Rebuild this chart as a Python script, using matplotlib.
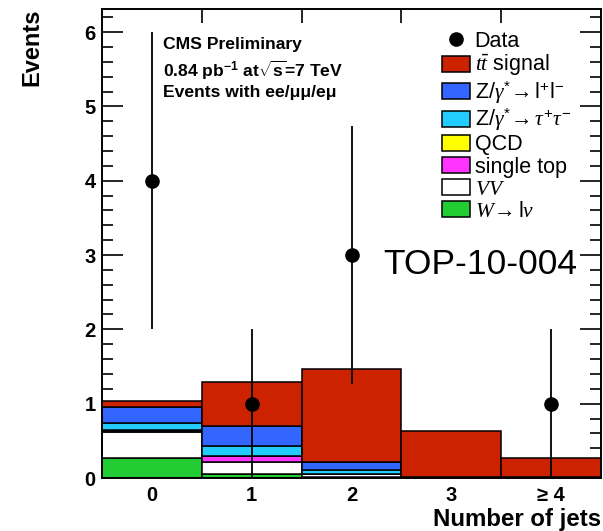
import numpy as np
import matplotlib
matplotlib.use("Agg")
import matplotlib.pyplot as plt
from matplotlib.patches import Patch
from matplotlib.lines import Line2D

plt.rcParams['font.family'] = ['Liberation Sans', 'DejaVu Sans']
plt.rcParams['mathtext.fontset'] = 'custom'
plt.rcParams['mathtext.rm'] = 'Liberation Sans'
plt.rcParams['mathtext.it'] = 'Liberation Serif:italic'
plt.rcParams['mathtext.bf'] = 'Liberation Sans:bold'

# ---------------------------------------------------------------------------
# data
bins = [0, 1, 2, 3, 4]
bin_labels = ["0", "1", "2", "3", "\u2265 4"]

data = [4, 1, 3, 0, 1]
data_err = [2.0, 1.0, 1.73, 0.0, 1.0]

# stacked MC, bottom to top
w_lnu = [0.27, 0.05, 0.01, 0.00, 0.00]
vv = [0.35, 0.16, 0.04, 0.01, 0.00]
single_top = [0.01, 0.08, 0.01, 0.01, 0.01]
qcd = [0.01, 0.00, 0.00, 0.00, 0.00]
z_tautau = [0.10, 0.14, 0.05, 0.00, 0.00]
z_ll = [0.22, 0.27, 0.10, 0.00, 0.00]
ttbar = [0.07, 0.59, 1.25, 0.61, 0.26]

stack_names = [r"$W\!\rightarrow$l$\nu$", r"$VV$", "single top", "QCD",
               r"Z/$\gamma^{*}\!\rightarrow\tau^{+}\tau^{-}$",
               r"Z/$\gamma^{*}\!\rightarrow$l$^{+}$l$^{-}$",
               r"$t\bar{t}$ signal"]
stack_vals = [w_lnu, vv, single_top, qcd, z_tautau, z_ll, ttbar]
stack_colors = ["#22cc33", "white", "#ff33ff", "#ffff00", "#22ccff", "#3366ff", "#cc2200"]
# ---------------------------------------------------------------------------

fig = plt.figure(figsize=(6.03, 5.31), dpi=100)
ax = fig.add_axes([102/603, 53/531, 499/603, 469/531])

bottom = np.zeros(len(bins))
for vals, col in zip(stack_vals, stack_colors):
    ax.bar(bins, vals, width=1.0, bottom=bottom, color=col,
           edgecolor="black", linewidth=1.1, zorder=2)
    bottom += np.array(vals)

x = np.array(bins)
d = np.array(data, dtype=float)
e = np.array(data_err)
has = d > 0
ax.errorbar(x[has], d[has], yerr=e[has], fmt="o", color="black",
            markersize=9.5, elinewidth=1.3, capsize=0, zorder=5)

ax.set_xlim(-0.5, 4.5)
ax.set_ylim(0, 6.31)

# labels at bin centres, ticks at bin edges
ax.set_xticks(bins)
ax.set_xticklabels(bin_labels, fontsize=14.5, fontweight="bold")
ax.set_xticks([0.5, 1.5, 2.5, 3.5], minor=True)
ax.tick_params(axis="x", which="major", length=0, pad=6)
ax.tick_params(axis="x", which="minor", direction="in", length=10, width=1.2,
               top=True, bottom=True)

ax.set_yticks(range(0, 7))
ax.set_yticks(np.arange(0, 6.31, 0.2), minor=True)
ax.tick_params(axis="y", which="major", direction="in", length=15, width=1.2,
               left=True, right=True, labelsize=14.5, pad=4.5)
ax.tick_params(axis="y", which="minor", direction="in", length=8, width=1.2,
               left=True, right=True)
for t in ax.get_yticklabels():
    t.set_fontweight("bold")

for s in ax.spines.values():
    s.set_linewidth(1.4)
    s.set_zorder(6)

ax.set_ylabel("Events", fontsize=17, fontweight="bold", loc="top")
ax.yaxis.set_label_coords(-0.118, 1.0)
ax.set_xlabel("Number of jets", fontsize=17.3, fontweight="bold", loc="right")
ax.xaxis.set_label_coords(1.0, -0.064)
ax.xaxis.label.set_va("top")

# CMS text
txt_kw = dict(transform=ax.transAxes, fontsize=12.6, fontweight="bold", va="center", ha="left")
ax.text((163-102)/499, (478-45)/469, "CMS Preliminary", **txt_kw)
ax.text((163-102)/499, (478-70)/469, r"0.84 pb$^{\mathbf{-1}}$ at$\sqrt{\mathbf{s}}$=7 TeV", **txt_kw)
ax.text((163-102)/499, (478-93)/469, "Events with ee/\u03bc\u03bc/e\u03bc", **txt_kw)

ax.text((383-102)/499, (478-265)/469, "TOP-10-004", transform=ax.transAxes,
        fontsize=25.5, va="center", ha="left", zorder=7)

# legend
handles = [Line2D([], [], marker="o", color="black", linestyle="none", markersize=9.5)]
labels = ["Data"]
for name, col in zip(stack_names[::-1], stack_colors[::-1]):
    handles.append(Patch(facecolor=col, edgecolor="black", linewidth=1.1))
    labels.append(name)
ax.legend(handles, labels, loc="upper left", bbox_to_anchor=((442-102)/499, (478-31)/469),
          frameon=False, fontsize=15.5, handlelength=1.3, handleheight=0.79,
          handletextpad=0.22, labelspacing=0.05, borderaxespad=0, borderpad=0)

fig.savefig("out.png", dpi=100)
